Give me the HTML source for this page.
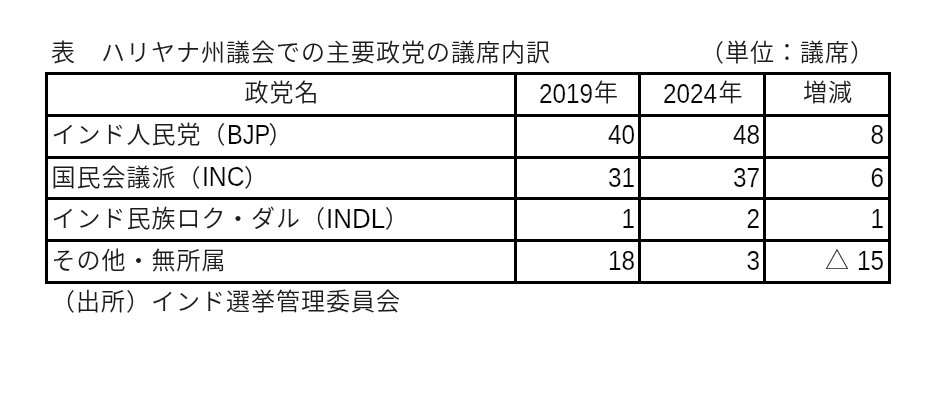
<!DOCTYPE html>
<html lang="ja">
<head>
<meta charset="utf-8">
<title>表　ハリヤナ州議会での主要政党の議席内訳</title>
<style>
html,body{margin:0;padding:0;background:#fff;}
body{width:942px;height:404px;position:relative;overflow:hidden;
  font-family:"Liberation Sans","Noto Sans CJK JP",sans-serif;
  font-size:24px;letter-spacing:1px;font-weight:350;color:#1c1c1c;line-height:36px;}
.cap{position:absolute;left:0;top:35px;width:942px;height:36px;margin:0;font:inherit;font-weight:350;letter-spacing:1px;}
.cap span{position:absolute;top:0;white-space:nowrap;}
.cap .title{left:51px;}
.cap .unit{left:700px;}
table{position:absolute;left:45px;top:72px;border-collapse:separate;border-spacing:0;
  table-layout:fixed;width:846px;border-top:3px solid #000;border-left:3px solid #000;}
th,td{padding:0;margin:0;height:39px;border-right:3px solid #000;border-bottom:3px solid #000;
  font-weight:350;white-space:nowrap;overflow:visible;vertical-align:top;line-height:36px;}
tr.h38 th,tr.h38 td{height:38px;}
th{text-align:center;}
td.name{text-align:left;}
td.num{text-align:right;}
.x{display:block;height:36px;position:relative;}
td.name .x{left:3.5px;}
td.num .x{right:3px;}
/* latin / digit runs: taller and narrower than Liberation's natural shape */
.s{display:inline-block;position:relative;top:1px;letter-spacing:0;font-size:27px;line-height:1;font-weight:400;
  transform-origin:0 50%;-webkit-text-stroke:0.2px #fff;color:#000;}
td.num .s{transform-origin:100% 50%;transform:scaleX(.9);}
.d4{top:2px;transform:scaleX(.9);margin-right:-6px;}
.src{position:absolute;left:51px;top:284px;height:36px;margin:0;white-space:nowrap;}
</style>
</head>
<body>
<h1 class="cap"><span class="title">表　ハリヤナ州議会での主要政党の議席内訳</span><span class="unit">（単位：議席）</span></h1>

<table>
<colgroup><col style="width:469px"><col style="width:124px"><col style="width:125px"><col style="width:125px"></colgroup>
<thead>
<tr>
<th><span class="x" style="left:1px;">政党名</span></th>
<th><span class="x" style="left:1.5px;"><span class="s d4">2019</span><span style="margin-left:1px;">年</span></span></th>
<th><span class="x" style="left:1.5px;"><span class="s d4">2024</span><span style="margin-left:1px;">年</span></span></th>
<th><span class="x" style="left:1px;">増減</span></th>
</tr>
</thead>
<tbody>
<tr>
<td class="name"><span class="x">インド人民党（<span class="s" style="transform:scaleX(.876);margin-right:-7.5px;">BJP</span>）</span></td>
<td class="num"><span class="x"><span class="s">40</span></span></td>
<td class="num"><span class="x"><span class="s">48</span></span></td>
<td class="num"><span class="x" style="right:4px;"><span class="s">8</span></span></td>
</tr>
<tr class="h38">
<td class="name"><span class="x" style="top:1px;">国民会議派（<span class="s" style="top:0;transform:scaleX(.915);margin-right:-4px;">INC</span>）</span></td>
<td class="num"><span class="x"><span class="s" style="top:2px;">31</span></span></td>
<td class="num"><span class="x"><span class="s" style="top:2px;">37</span></span></td>
<td class="num"><span class="x" style="right:4px;"><span class="s" style="top:2px;">6</span></span></td>
</tr>
<tr>
<td class="name"><span class="x" style="top:1px;">インド民族ロク・ダル（<span class="s" style="transform:scaleX(.962);margin-right:-2.8px;">INDL</span>）</span></td>
<td class="num"><span class="x" style="top:1px;"><span class="s">1</span></span></td>
<td class="num"><span class="x" style="top:1px;"><span class="s">2</span></span></td>
<td class="num"><span class="x" style="top:1px;right:4px;"><span class="s">1</span></span></td>
</tr>
<tr>
<td class="name"><span class="x" style="top:1px;">その他・無所属</span></td>
<td class="num"><span class="x" style="top:1px;"><span class="s">18</span></span></td>
<td class="num"><span class="x" style="top:1px;"><span class="s">3</span></span></td>
<td class="num"><span class="x" style="top:1px;right:4px;"><span style="margin-right:-3.6px;">△</span> <span class="s">15</span></span></td>
</tr>
</tbody>
</table>

<p class="src">（出所）インド選挙管理委員会</p>
</body>
</html>
